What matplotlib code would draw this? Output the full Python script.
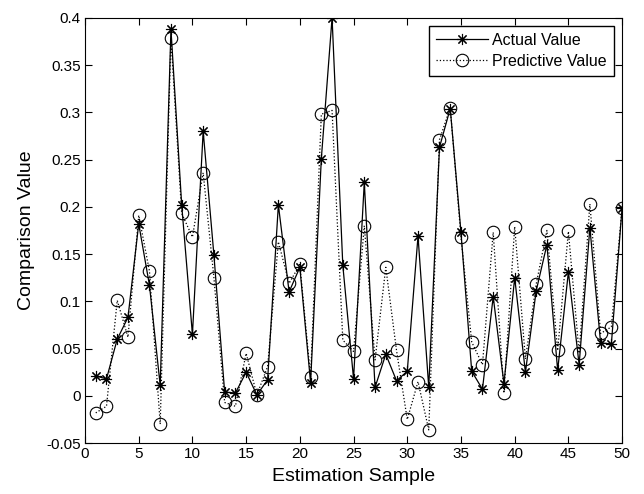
import numpy as np
import matplotlib
matplotlib.use("Agg")
import matplotlib.pyplot as plt

plt.rcParams['font.family'] = ['Liberation Sans', 'DejaVu Sans']

# sample index and the two series
samples = np.arange(1, 51)
actual = [0.021, 0.018, 0.060, 0.083, 0.182, 0.117, 0.011, 0.388, 0.202, 0.065,
          0.280, 0.149, 0.004, 0.003, 0.025, 0.001, 0.017, 0.202, 0.110, 0.136,
          0.014, 0.251, 0.400, 0.138, 0.018, 0.226, 0.009, 0.044, 0.016, 0.026,
          0.169, 0.009, 0.263, 0.304, 0.173, 0.026, 0.007, 0.105, 0.013, 0.125,
          0.025, 0.111, 0.160, 0.027, 0.131, 0.033, 0.178, 0.056, 0.055, 0.199]
predicted = [-0.018, -0.011, 0.101, 0.062, 0.191, 0.132, -0.030, 0.379, 0.193, 0.168,
             0.236, 0.125, -0.007, -0.011, 0.045, 0.001, 0.031, 0.163, 0.119, 0.139,
             0.020, 0.298, 0.302, 0.059, 0.047, 0.180, 0.038, 0.136, 0.048, -0.025,
             0.015, -0.036, 0.271, 0.305, 0.168, 0.057, 0.033, 0.173, 0.003, 0.179,
             0.039, 0.118, 0.175, 0.048, 0.174, 0.045, 0.203, 0.066, 0.073, 0.199]

fig = plt.figure(figsize=(6.44, 4.94), dpi=100)
ax = fig.add_axes([0.132, 0.103, 0.834, 0.861])

# matlab-style asterisk: 8 thin arms
ax.plot(samples, actual, 'k-', marker=(8, 2, 0), markersize=8, markeredgewidth=0.8,
        linewidth=0.9, label='Actual Value')
ax.plot(samples, predicted, color='k', linestyle=':', marker='o', markersize=9,
        markerfacecolor='none', markeredgewidth=0.8, linewidth=0.9,
        label='Predictive Value')

ax.set_xlim(0, 50)
ax.set_ylim(-0.05, 0.4)
ax.set_xticks(np.arange(0, 51, 5))
ax.set_yticks(np.arange(-0.05, 0.401, 0.05))
ax.set_yticklabels(['-0.05', '0', '0.05', '0.1', '0.15', '0.2', '0.25', '0.3', '0.35', '0.4'])
ax.tick_params(direction='in', top=True, right=True, labelsize=11, length=5, pad=3)
ax.set_xlabel('Estimation Sample', fontsize=14, labelpad=5)
ax.set_ylabel('Comparison Value', fontsize=14, labelpad=8)

leg = ax.legend(loc='upper right', fontsize=11.5, fancybox=False, edgecolor='k',
                framealpha=1, borderaxespad=0.5, handlelength=3.2,
                handletextpad=0.3, borderpad=0.45, labelspacing=0.35)
leg.get_frame().set_linewidth(1.0)

fig.savefig('out.png', dpi=100)
